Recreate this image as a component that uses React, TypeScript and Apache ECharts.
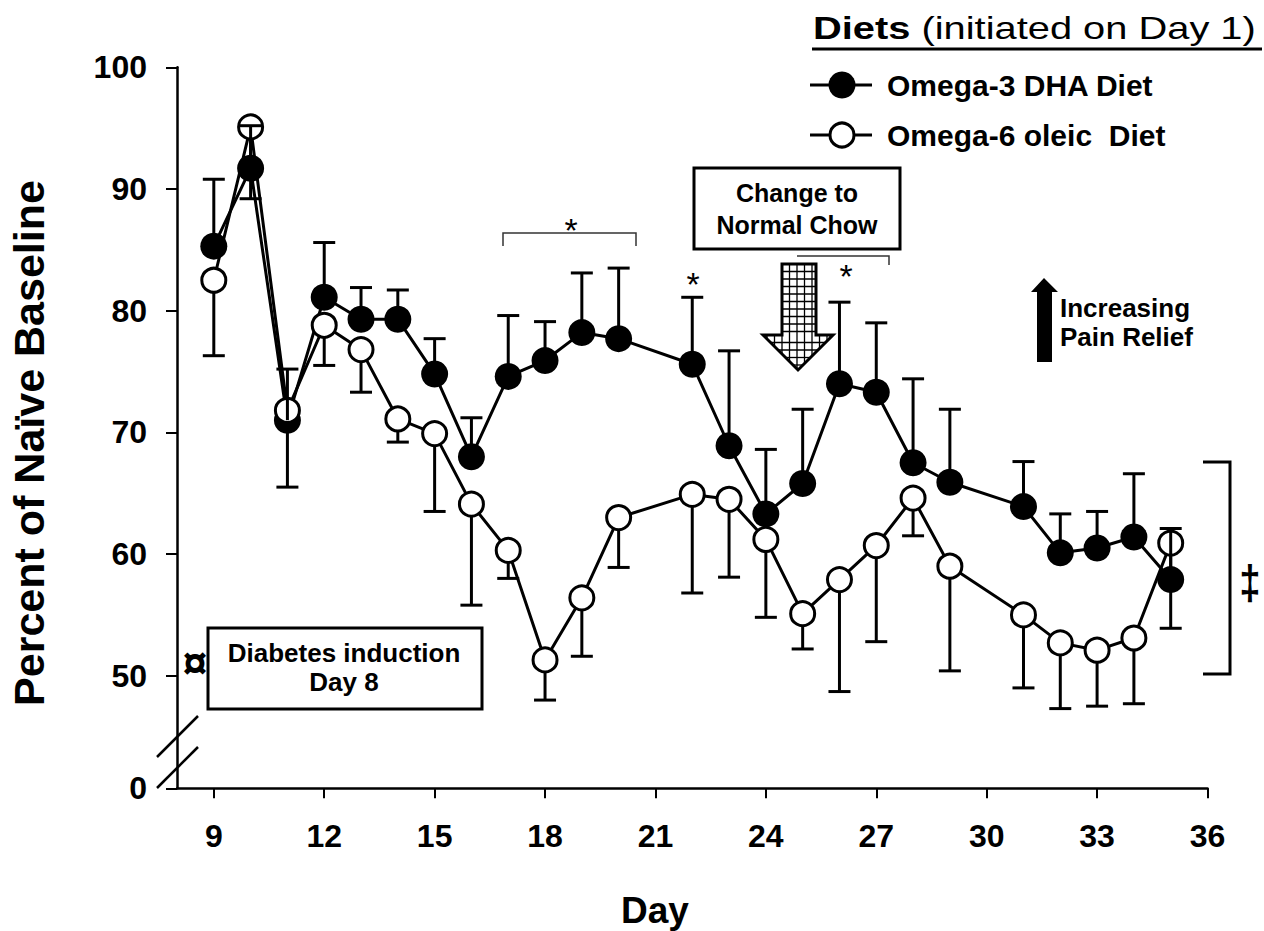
import React, { useEffect, useRef } from 'react';
import * as echarts from 'echarts';

const F = '"Liberation Sans", Arial, Helvetica, sans-serif';

// Days on which measurements were taken
const days = [9, 10, 11, 12, 13, 14, 15, 16, 17, 18, 19, 20, 22, 23, 24, 25, 26, 27, 28, 29, 31, 32, 33, 34, 35];
// Omega-3 DHA diet (filled circles): mean and upper error bar end
const dhaMean = [85.3, 91.7, 71.0, 81.1, 79.3, 79.3, 74.8, 68.0, 74.6, 75.9, 78.2, 77.7, 75.6, 68.9, 63.3, 65.8, 74.0, 73.3, 67.5, 65.9, 63.9, 60.1, 60.5, 61.4, 57.9];
const dhaErrTop = [90.8, 95.2, 75.2, 85.6, 81.9, 81.7, 77.7, 71.2, 79.6, 79.1, 83.1, 83.5, 81.1, 76.7, 68.6, 71.9, 80.7, 79.0, 74.4, 71.9, 67.6, 63.3, 63.5, 66.6, 62.1];
// Omega-6 oleic diet (open circles): mean and lower error bar end
const oleicMean = [82.5, 95.1, 71.8, 78.8, 76.8, 71.1, 69.9, 64.1, 60.3, 51.3, 56.4, 63.0, 64.9, 64.5, 61.2, 55.1, 57.9, 60.7, 64.6, 59.0, 55.0, 52.7, 52.1, 53.1, 60.9];
const oleicErrBottom = [76.3, 89.2, 65.5, 75.5, 73.3, 69.2, 63.5, 55.8, 58.0, 48.0, 51.6, 58.9, 56.8, 58.1, 54.8, 52.2, 48.7, 52.8, 61.5, 50.4, 49.0, 47.3, 47.5, 47.7, 53.9];

// Axis ticks
const xTickValues = [9, 12, 15, 18, 21, 24, 27, 30, 33, 36];
const yBreakValue = 40.75; // axis position where the broken axis shows "0"
const yTickPositions = [yBreakValue, 50, 60, 70, 80, 90, 100];
const yTickLabels = ['0', '50', '60', '70', '80', '90', '100'];

const seriesNames = ['Omega-3 DHA Diet', 'Omega-6 oleic  Diet'];

function errRender(params: any, api: any) {
  const x = api.value(0);
  const m = api.value(1);
  const e = api.value(2);
  const p1 = api.coord([x, m]);
  const p2 = api.coord([x, e]);
  const hw = 11;
  const st = { stroke: '#000', lineWidth: 3 };
  return {
    type: 'group',
    children: [
      { type: 'line', shape: { x1: p1[0], y1: p1[1], x2: p2[0], y2: p2[1] }, style: st },
      { type: 'line', shape: { x1: p2[0] - hw, y1: p2[1], x2: p2[0] + hw, y2: p2[1] }, style: st },
    ],
  };
}

function ln(x1: number, y1: number, x2: number, y2: number, w = 1.3, color = '#000') {
  return { type: 'line', shape: { x1, y1, x2, y2 }, style: { stroke: color, lineWidth: w } };
}

function txt(text: string, x: number, y: number, size: number, weight = 'bold', align = 'center', extra: any = {}) {
  return {
    type: 'text',
    x,
    y,
    ...extra,
    style: { text, fill: '#000', fontSize: size, fontWeight: weight, fontFamily: F, align, verticalAlign: 'middle' },
  };
}

function buildHatchArrow() {
  const els: any[] = [];
  const s = 7.5;
  const shaft = [[782, 264], [816, 264], [816, 335], [833, 335], [798, 370], [763, 335], [782, 335]];
  els.push({ type: 'polygon', shape: { points: shaft }, style: { fill: '#fff', stroke: null } });
  for (let x = 782 + s; x < 815; x += s) els.push(ln(x, 264, x, 335));
  for (let y = 264 + s; y < 334; y += s) els.push(ln(782, y, 816, y));
  for (let k = -3; k <= 8; k++) {
    const x = 782 + k * s;
    if (x <= 764 || x >= 832) continue;
    els.push(ln(x, 335, x, 370 - Math.abs(x - 798)));
  }
  for (let y = 335 + s; y < 369; y += s) {
    const hw = 370 - y;
    els.push(ln(798 - hw, y, 798 + hw, y));
  }
  els.push({ type: 'polygon', shape: { points: shaft }, style: { fill: 'none', stroke: '#000', lineWidth: 3 } });
  return els;
}

export default function App() {
  const ref = useRef<HTMLDivElement>(null);
  useEffect(() => {
    const chart = echarts.init(ref.current!, null, { renderer: 'svg' });
    const axisColor = '#000';
    const option: any = {
      animation: false,
      backgroundColor: '#fff',
      grid: { left: 177, right: 56.5, top: 67.3, bottom: 142.7, containLabel: false },
      xAxis: {
        type: 'value',
        min: 8,
        max: 36,
        axisLine: { show: true, lineStyle: { color: axisColor, width: 2.5 } },
        axisTick: { show: true, length: 10, customValues: xTickValues, lineStyle: { color: axisColor, width: 2 } },
        axisLabel: {
          customValues: xTickValues,
          margin: 32,
          fontSize: 32,
          fontWeight: 'bold',
          fontFamily: F,
          color: '#000',
        },
        splitLine: { show: false },
      },
      yAxis: {
        type: 'value',
        min: yBreakValue,
        max: 100,
        axisLine: { show: true, lineStyle: { color: axisColor, width: 2.5 } },
        axisTick: { show: true, length: 11, customValues: yTickPositions, lineStyle: { color: axisColor, width: 2 } },
        axisLabel: {
          customValues: yTickPositions,
          formatter: (v: number) => {
            const i = yTickPositions.findIndex((p) => Math.abs(p - v) < 1e-6);
            return i >= 0 ? yTickLabels[i] : '';
          },
          margin: 30,
          fontSize: 32,
          fontWeight: 'bold',
          fontFamily: F,
          color: '#000',
        },
        splitLine: { show: false },
      },
      series: [
        {
          type: 'custom',
          z: 1,
          silent: true,
          clip: false,
          renderItem: errRender,
          encode: { x: 0, y: [1, 2] },
          data: days.map((d, i) => [d, oleicMean[i], oleicErrBottom[i]]),
        },
        {
          name: seriesNames[0],
          type: 'line',
          z: 2,
          silent: true,
          data: days.map((d, i) => [d, dhaMean[i]]),
          symbol: 'circle',
          symbolSize: 27,
          lineStyle: { color: '#000', width: 3 },
          itemStyle: { color: '#000', borderColor: '#000', borderWidth: 0 },
        },
        {
          name: seriesNames[1],
          type: 'line',
          z: 3,
          silent: true,
          data: days.map((d, i) => [d, oleicMean[i]]),
          symbol: 'circle',
          symbolSize: 24,
          lineStyle: { color: '#000', width: 3 },
          itemStyle: { color: '#fff', borderColor: '#000', borderWidth: 3 },
        },
        {
          type: 'custom',
          z: 4,
          silent: true,
          clip: false,
          renderItem: errRender,
          encode: { x: 0, y: [1, 2] },
          data: days.map((d, i) => [d, dhaMean[i], dhaErrTop[i]]),
        },
      ],
      graphic: [
        // axis titles
        txt('Percent of Naïve Baseline', 29, 443, 43, 'bold', 'center', { rotation: Math.PI / 2 }),
        txt('Day', 655, 910, 37),
        // axis break marks
        ln(157, 757, 198, 716, 2.5),
        ln(157, 788, 198, 747, 2.5),
        txt('¤', 195, 662, 44),
        // Diabetes induction box
        { type: 'rect', shape: { x: 208, y: 628, width: 274, height: 81 }, style: { fill: '#fff', stroke: '#000', lineWidth: 3 } },
        txt('Diabetes induction', 344, 653, 26),
        txt('Day 8', 344, 682, 26),
        // Change to normal chow box
        { type: 'rect', shape: { x: 694, y: 168, width: 206, height: 81 }, style: { fill: '#fff', stroke: '#000', lineWidth: 3 } },
        txt('Change to', 797, 193, 25),
        txt('Normal Chow', 797, 225, 25),
        ...buildHatchArrow(),
        // significance brackets and stars
        { type: 'polyline', shape: { points: [[503, 246], [503, 233], [636, 233], [636, 246]] }, style: { fill: 'none', stroke: '#333', lineWidth: 1.5 } },
        { type: 'polyline', shape: { points: [[797, 256], [889, 256], [889, 265]] }, style: { fill: 'none', stroke: '#333', lineWidth: 1.5 } },
        txt('*', 571, 230, 34, 'normal'),
        txt('*', 693, 284, 34, 'normal'),
        txt('*', 846, 276, 34, 'normal'),
        // Increasing pain relief arrow
        {
          type: 'polygon',
          shape: { points: [[1044, 278], [1058, 292], [1052, 292], [1052, 362], [1037, 362], [1037, 292], [1031, 292]] },
          style: { fill: '#000', stroke: null },
        },
        txt('Increasing', 1060, 308, 26, 'bold', 'left'),
        txt('Pain Relief', 1060, 337, 26, 'bold', 'left'),
        // right bracket with double dagger
        { type: 'polyline', shape: { points: [[1203, 462], [1230, 462], [1230, 674], [1203, 674]] }, style: { fill: 'none', stroke: '#000', lineWidth: 3 } },
        txt('‡', 1250, 582, 48, 'bold', 'center', { scaleX: 0.8 }),
        // legend
        {
          type: 'text',
          x: 813,
          y: 28,
          scaleX: 1.245,
          style: {
            text: '{b|Diets} {r|(initiated on Day 1)}',
            fill: '#000',
            fontSize: 32,
            fontFamily: F,
            align: 'left',
            verticalAlign: 'middle',
            rich: {
              b: { fontSize: 32, fontWeight: 'bold', fontFamily: F, fill: '#000' },
              r: { fontSize: 32, fontWeight: 'normal', fontFamily: F, fill: '#000' },
            },
          },
        },
        ln(812, 49, 1262, 49, 3),
        ln(810, 85, 872, 85, 3),
        { type: 'circle', shape: { cx: 842, cy: 85, r: 13.5 }, style: { fill: '#000', stroke: null } },
        txt(seriesNames[0], 887, 85, 30, 'bold', 'left'),
        ln(810, 135, 872, 135, 3),
        { type: 'circle', shape: { cx: 842, cy: 135, r: 12 }, style: { fill: '#fff', stroke: '#000', lineWidth: 3 } },
        txt(seriesNames[1], 887, 135, 30, 'bold', 'left'),
      ],
    };
    chart.setOption(option);
    return () => chart.dispose();
  }, []);
  return (
    <div
      ref={ref}
      style={{ position: 'fixed', left: 0, top: 0, width: 1264, height: 931, background: '#fff' }}
    />
  );
}
